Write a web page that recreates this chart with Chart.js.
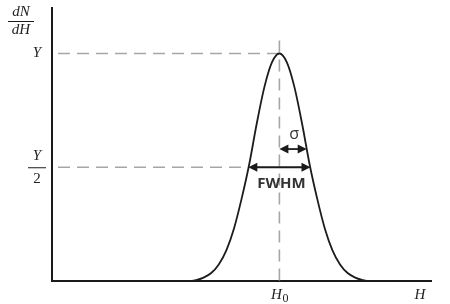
<!DOCTYPE html>
<html>
<head>
<meta charset="utf-8">
<script src="https://cdn.jsdelivr.net/npm/chart.js@4/dist/chart.umd.min.js"></script>
<style>
  html, body { margin: 0; padding: 0; background: #fff; }
  #wrap { width: 450px; height: 304px; }
</style>
</head>
<body>
<div id="wrap"><canvas id="peakChart"></canvas></div>
<script>
// Distribution curve, values (peak normalised to Y = 1)
const hValues = [30, 36, 38, 40, 42, 44, 46, 48, 50, 52, 54, 56, 58, 60, 62, 64, 66, 68, 70, 72, 74, 76, 78, 80, 82, 84, 90];
const densityValues = [0, 0, 0.004, 0.015, 0.035, 0.073, 0.135, 0.23, 0.36, 0.51, 0.69, 0.85, 0.96, 1.0, 0.96, 0.85, 0.69, 0.51, 0.36, 0.23, 0.135, 0.073, 0.035, 0.015, 0.004, 0, 0];

// Marker positions on the axes
const peakH = 60;
const peakY = 1;
const halfY = 0.5;
const fwhmLeft = 51.8;
const fwhmRight = 68.2;
const sigmaEnd = 67.2;
const sigmaY = 0.58;

const serif = '"Liberation Serif", "DejaVu Serif", serif';
const sans = '"Open Sans", "Noto Sans", sans-serif';

function arrowHead(ctx, x, y, dir) {
    ctx.beginPath();
    ctx.moveTo(x, y);
    ctx.lineTo(x - dir * 9, y - 4.5);
    ctx.lineTo(x - dir * 9, y + 4.5);
    ctx.closePath();
    ctx.fill();
}

function doubleArrow(ctx, x1, x2, y) {
    ctx.beginPath();
    ctx.moveTo(x1 + 4, y);
    ctx.lineTo(x2 - 4, y);
    ctx.stroke();
    arrowHead(ctx, x1, y, -1);
    arrowHead(ctx, x2, y, 1);
}

const guidePlugin = {
    id: 'guides',
    beforeDatasetsDraw(chart) {
        const ctx = chart.ctx;
        const x = chart.scales.x, y = chart.scales.y;
        const left = chart.chartArea.left, bottom = chart.chartArea.bottom;
        ctx.save();
        ctx.strokeStyle = '#a6a6a6';
        ctx.lineWidth = 1.6;
        ctx.setLineDash([12, 7]);
        // vertical at H0
        ctx.beginPath();
        ctx.moveTo(x.getPixelForValue(peakH), y.getPixelForValue(peakY) - 13);
        ctx.lineTo(x.getPixelForValue(peakH), bottom);
        ctx.stroke();
        // horizontal at Y
        ctx.beginPath();
        ctx.moveTo(left + 6, y.getPixelForValue(peakY));
        ctx.lineTo(x.getPixelForValue(peakH), y.getPixelForValue(peakY));
        ctx.stroke();
        // horizontal at Y/2
        ctx.beginPath();
        ctx.moveTo(left + 6, y.getPixelForValue(halfY));
        ctx.lineTo(x.getPixelForValue(fwhmLeft), y.getPixelForValue(halfY));
        ctx.stroke();
        ctx.restore();
    },
    afterDraw(chart) {
        const ctx = chart.ctx;
        const x = chart.scales.x, y = chart.scales.y;
        const area = chart.chartArea;
        ctx.save();
        ctx.strokeStyle = '#1a1a1a';
        ctx.fillStyle = '#1a1a1a';
        ctx.lineWidth = 1.8;
        doubleArrow(ctx, x.getPixelForValue(fwhmLeft), x.getPixelForValue(fwhmRight), y.getPixelForValue(halfY));
        doubleArrow(ctx, x.getPixelForValue(peakH), x.getPixelForValue(sigmaEnd), y.getPixelForValue(sigmaY));

        ctx.fillStyle = '#333';
        ctx.textAlign = 'center';
        ctx.textBaseline = 'middle';
        ctx.font = 'bold 15px ' + sans;
        ctx.fillText('FWHM', x.getPixelForValue(peakH) + 2, y.getPixelForValue(halfY) + 16);
        ctx.font = '16px ' + sans;
        ctx.fillText('σ', x.getPixelForValue((peakH + sigmaEnd) / 2) + 1, y.getPixelForValue(sigmaY) - 15);

        // axis labels
        ctx.fillStyle = '#222';
        ctx.font = 'italic 15px ' + serif;
        const yPeak = y.getPixelForValue(peakY);
        const yHalf = y.getPixelForValue(halfY);
        ctx.fillText('Y', 37, yPeak);
        ctx.fillText('Y', 37, yHalf - 11);
        ctx.font = '15px ' + serif;
        ctx.fillText('2', 37, yHalf + 12);
        ctx.lineWidth = 1;
        ctx.beginPath();
        ctx.moveTo(28, yHalf + 0.5);
        ctx.lineTo(46, yHalf + 0.5);
        ctx.stroke();

        ctx.font = 'italic 15px ' + serif;
        ctx.fillText('dN', 21, 12);
        ctx.fillText('dH', 21, 30);
        ctx.beginPath();
        ctx.moveTo(8, 21.5);
        ctx.lineTo(34, 21.5);
        ctx.stroke();

        ctx.font = 'italic 15px ' + serif;
        const h0x = x.getPixelForValue(peakH);
        ctx.fillText('H', h0x - 3, area.bottom + 14);
        ctx.font = '12px ' + serif;
        ctx.fillText('0', h0x + 6, area.bottom + 18);
        ctx.font = 'italic 15px ' + serif;
        ctx.fillText('H', 420, area.bottom + 14);
        ctx.restore();
    }
};

const points = hValues.map((h, i) => ({ x: h, y: densityValues[i] }));

new Chart(document.getElementById('peakChart').getContext('2d'), {
    type: 'line',
    data: {
        datasets: [{
            data: points,
            borderColor: '#1c1c1c',
            borderWidth: 1.8,
            pointRadius: 0,
            fill: false,
            cubicInterpolationMode: 'monotone'
        }]
    },
    options: {
        responsive: true,
        maintainAspectRatio: false,
        animation: false,
        layout: { padding: { left: 52, right: 19, top: 8, bottom: 23 } },
        plugins: { legend: { display: false }, tooltip: { enabled: false } },
        scales: {
            x: {
                type: 'linear',
                min: 0,
                max: 100,
                ticks: { display: false },
                grid: { display: false, drawTicks: false },
                border: { display: true, color: '#1a1a1a', width: 2 }
            },
            y: {
                min: 0,
                max: 1.2,
                ticks: { display: false },
                grid: { display: false, drawTicks: false },
                border: { display: true, color: '#1a1a1a', width: 2 }
            }
        }
    },
    plugins: [guidePlugin]
});
</script>
</body>
</html>
